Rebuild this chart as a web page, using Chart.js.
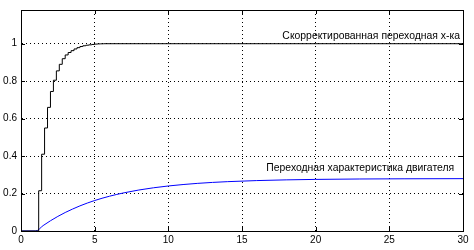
<!DOCTYPE html>
<html><head><meta charset="utf-8">
<script src="https://cdn.jsdelivr.net/npm/chart.js@4/dist/chart.umd.min.js"></script>
<style>html,body{margin:0;padding:0;background:#fff}#w{width:474px;height:250px}</style>
</head><body><div id="w"><canvas id="c" width="474" height="250"></canvas></div>
<script>
// Corrected (discrete) step response: sample times and held values
const stepTimes  = [0, 1.2, 1.4, 1.6, 1.8, 2.0, 2.2, 2.4, 2.6, 2.8, 3.0, 3.2, 3.4, 3.6, 3.8, 4.0, 4.2, 4.4, 4.6, 4.8, 5.0, 5.2, 5.4, 5.6, 30];
const stepValues = [0, 0.215, 0.41, 0.55, 0.66, 0.745, 0.805, 0.855, 0.89, 0.92, 0.94, 0.953, 0.963, 0.972, 0.979, 0.985, 0.989, 0.992, 0.994, 0.996, 0.998, 0.999, 0.9995, 1, 1];
// Motor step response
const motorTimes  = [0, 1, 1.5, 2, 2.5, 3, 4, 5, 6, 7, 8, 9, 10, 12, 14, 16, 18, 20, 23, 26, 30];
const motorValues = [0, 0, 0.0288, 0.0547, 0.0779, 0.0987, 0.1341, 0.1627, 0.1856, 0.2040, 0.2189, 0.2308, 0.2404, 0.2544, 0.2634, 0.2692, 0.2730, 0.2755, 0.2777, 0.2788, 0.2795];
const xTicks = [0, 5, 10, 15, 20, 25, 30];
const yTicks = [0, 0.2, 0.4, 0.6, 0.8, 1];
const labelCorrected = 'Скорректированная переходная х-ка';
const labelMotor = 'Переходная характеристика двигателя';

const pts = (xs, ys) => xs.map((x, i) => ({x, y: ys[i]}));
const FONT = '"Liberation Sans", Arial, sans-serif';

const overlay = {
  id: 'overlay',
  afterDatasetsDraw(chart) {
    const {ctx, chartArea: a, scales: {x, y}} = chart;
    ctx.save();
    ctx.strokeStyle = '#000'; ctx.lineWidth = 1; ctx.setLineDash([]);
    ctx.strokeRect(Math.round(a.left) + 0.5, Math.round(a.top) + 0.5, Math.round(a.right - a.left), Math.round(a.bottom - a.top));
    ctx.beginPath();
    xTicks.forEach(v => { const px = Math.round(x.getPixelForValue(v)) + 0.5;
      ctx.moveTo(px, a.bottom); ctx.lineTo(px, a.bottom - 4);
      ctx.moveTo(px, a.top); ctx.lineTo(px, a.top + 4); });
    yTicks.forEach(v => { const py = Math.round(y.getPixelForValue(v)) + 0.5;
      ctx.moveTo(a.left, py); ctx.lineTo(a.left + 4, py);
      ctx.moveTo(a.right, py); ctx.lineTo(a.right - 4, py); });
    ctx.stroke();
    ctx.fillStyle = '#000';
    ctx.font = '10.4px ' + FONT;
    ctx.textAlign = 'right'; ctx.textBaseline = 'bottom';
    ctx.fillText(labelCorrected, x.getPixelForValue(29.8), y.getPixelForValue(1) - 2);
    ctx.fillText(labelMotor, x.getPixelForValue(29.4), y.getPixelForValue(0.2795) - 5);
    ctx.restore();
  }
};

new Chart(document.getElementById('c'), {
  type: 'line',
  data: { datasets: [
    { data: pts(stepTimes, stepValues), borderColor: '#000', borderWidth: 1, stepped: 'before', pointRadius: 0, fill: false },
    { data: pts(motorTimes, motorValues), borderColor: '#0000ff', borderWidth: 1, cubicInterpolationMode: 'monotone', pointRadius: 0, fill: false }
  ]},
  options: {
    responsive: false, animation: false, devicePixelRatio: 1,
    layout: { padding: { top: 10, right: 11, left: 0, bottom: 0 } },
    plugins: { legend: { display: false }, tooltip: { enabled: false } },
    scales: {
      x: { type: 'linear', min: 0, max: 30,
        afterBuildTicks: s => { s.ticks = xTicks.map(v => ({value: v})); },
        afterFit: s => { s.height = 19; },
        grid: { color: '#000', lineWidth: 1, drawTicks: false },
        border: { display: true, color: '#000', dash: [1, 3] },
        ticks: { color: '#000', font: { size: 10, family: FONT }, padding: 3, maxRotation: 0 } },
      y: { type: 'linear', min: 0, max: 1.18,
        afterBuildTicks: s => { s.ticks = yTicks.map(v => ({value: v})); },
        afterFit: s => { s.width = 21; },
        grid: { color: '#000', lineWidth: 1, drawTicks: false },
        border: { display: true, color: '#000', dash: [1, 3] },
        ticks: { color: '#000', font: { size: 10, family: FONT }, padding: 4,
          callback: v => String(Math.round(v * 10) / 10) } }
    }
  },
  plugins: [overlay]
});
</script></body></html>
